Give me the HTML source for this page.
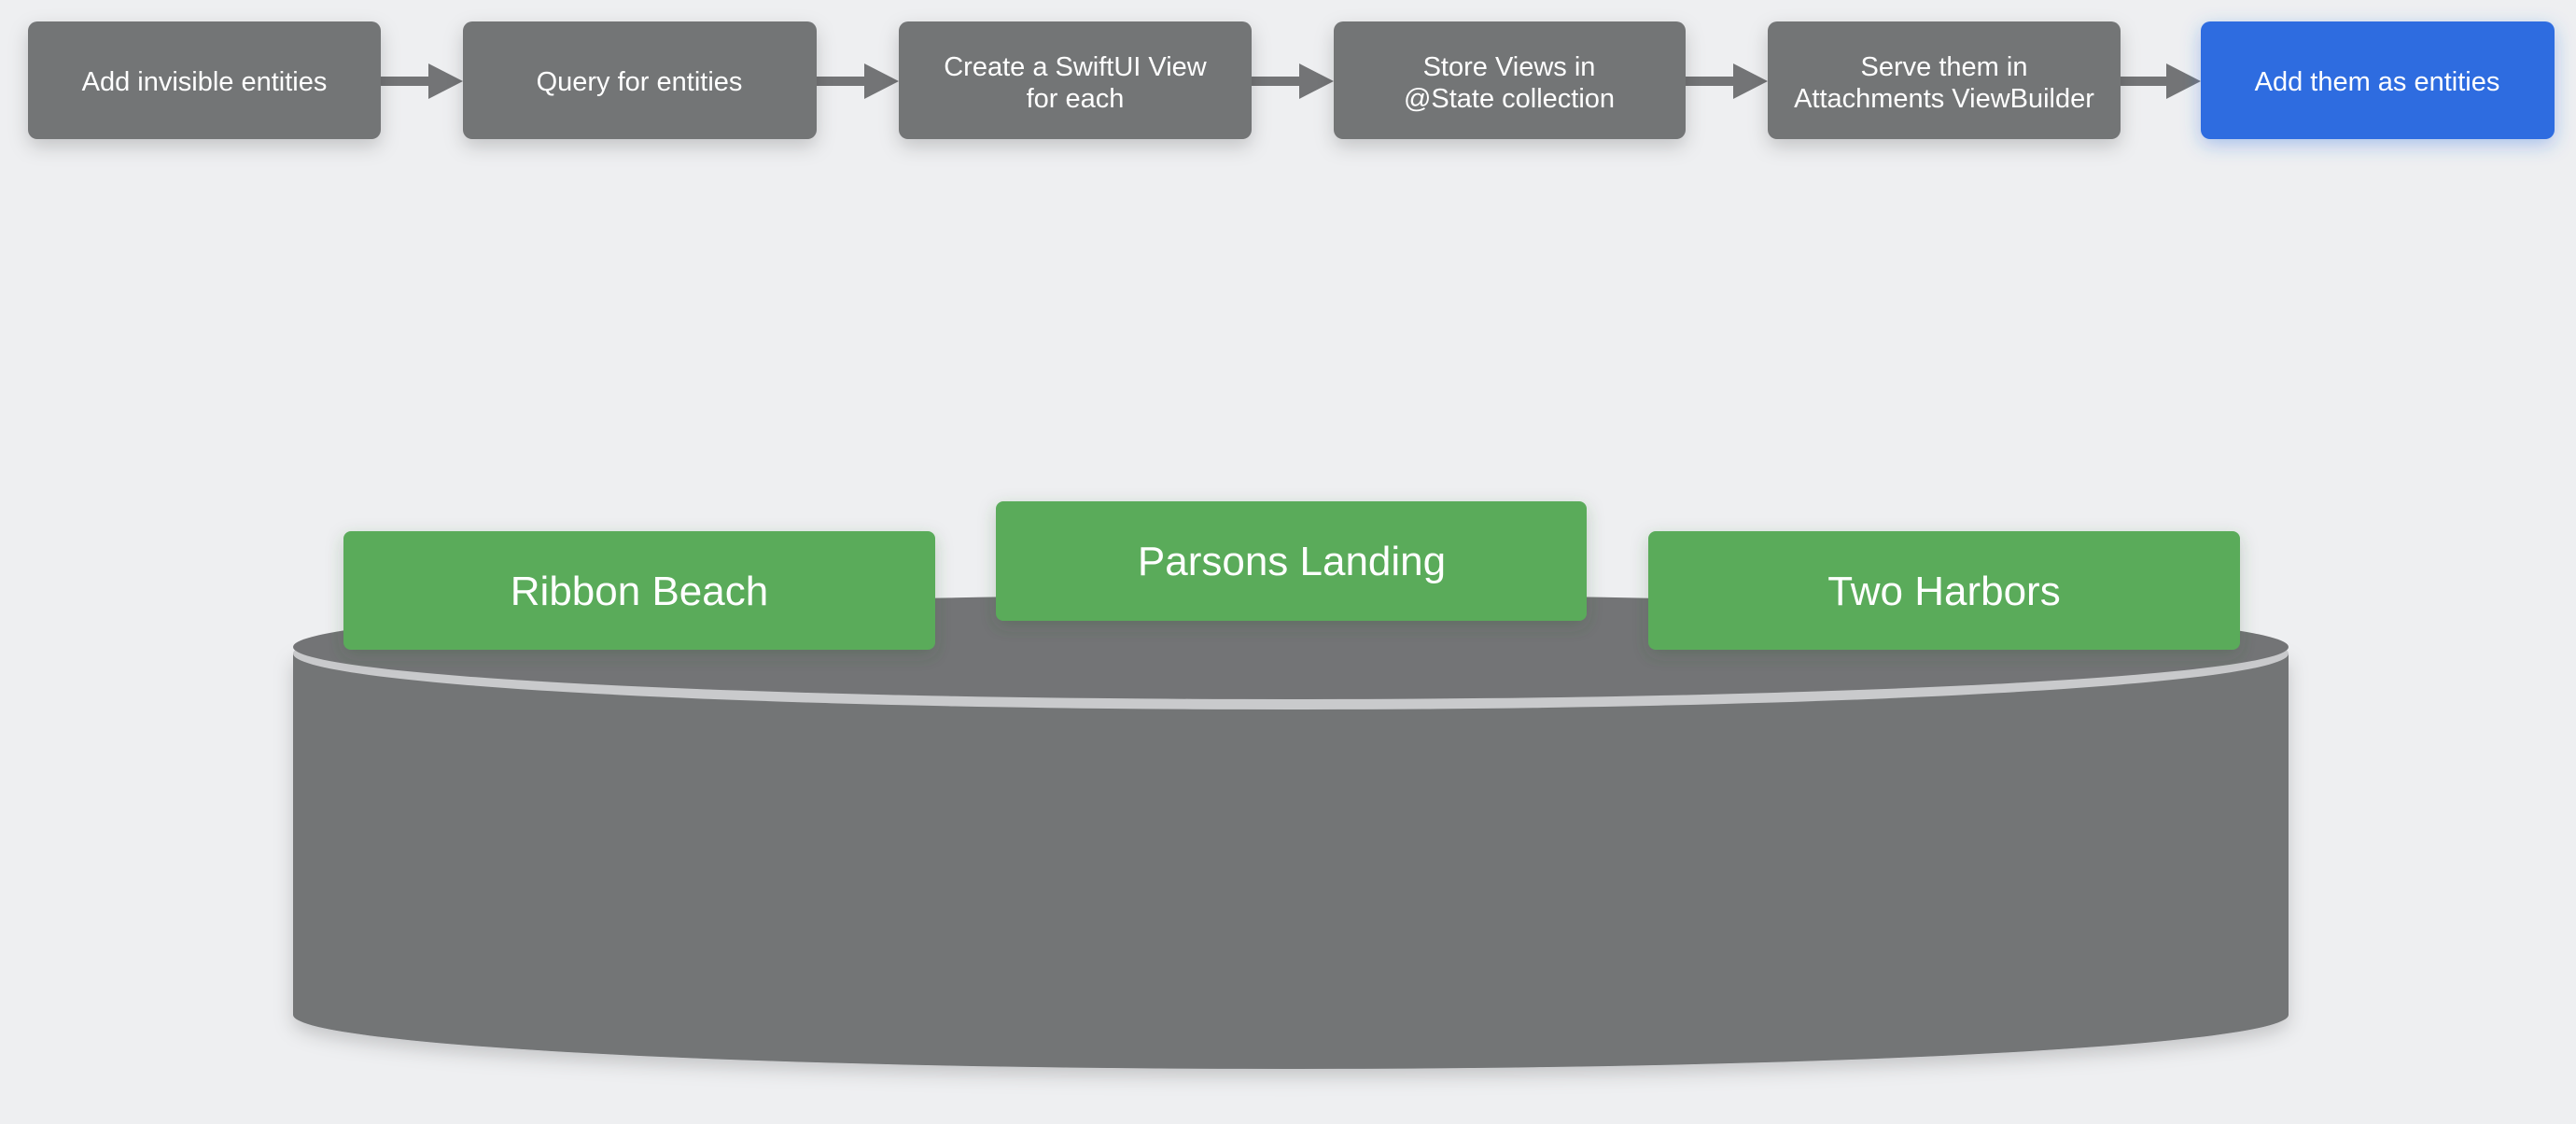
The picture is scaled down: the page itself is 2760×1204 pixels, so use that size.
<!DOCTYPE html>
<html><head><meta charset="utf-8"><style>
html,body{margin:0;padding:0;background:#eeeff1;}
svg{display:block}
text{font-family:"Liberation Sans",sans-serif;fill:#fff;text-anchor:middle}
</style></head><body>
<svg width="2760" height="1204" viewBox="0 0 2760 1204" xmlns="http://www.w3.org/2000/svg">
<defs>
<filter id="sh" x="-20%" y="-40%" width="140%" height="200%"><feDropShadow dx="0" dy="8" stdDeviation="10" flood-color="#000" flood-opacity="0.18"/></filter>
<filter id="gsh" x="-20%" y="-40%" width="140%" height="200%"><feDropShadow dx="0" dy="6" stdDeviation="9" flood-color="#2a5a2a" flood-opacity="0.25"/></filter>
<filter id="bsh" x="-20%" y="-40%" width="140%" height="200%"><feDropShadow dx="0" dy="6" stdDeviation="10" flood-color="#2f6ce0" flood-opacity="0.35"/></filter>
</defs>
<!-- arrows -->
<g fill="#737476">
<rect x="405" y="82" width="60" height="10"/><polygon points="459,68 496,87 459,106"/>
<rect x="872" y="82" width="60" height="10"/><polygon points="926,68 963,87 926,106"/>
<rect x="1338" y="82" width="60" height="10"/><polygon points="1392,68 1429,87 1392,106"/>
<rect x="1803" y="82" width="60" height="10"/><polygon points="1857,68 1894,87 1857,106"/>
<rect x="2269" y="82" width="60" height="10"/><polygon points="2321,68 2358,87 2321,106"/>
</g>
<g fill="#737476" filter="url(#sh)">
<rect x="30" y="23" width="378" height="126" rx="10"/>
<rect x="496" y="23" width="379" height="126" rx="10"/>
<rect x="963" y="23" width="378" height="126" rx="10"/>
<rect x="1429" y="23" width="377" height="126" rx="10"/>
<rect x="1894" y="23" width="378" height="126" rx="10"/>
</g>
<rect x="2358" y="23" width="379" height="126" rx="10" fill="#2f6ce0" filter="url(#bsh)"/>
<g font-size="29">
<text x="219" y="97">Add invisible entities</text>
<text x="685" y="97">Query for entities</text>
<text x="1152" y="81">Create a SwiftUI View</text><text x="1152" y="115">for each</text>
<text x="1617" y="81">Store Views in</text><text x="1617" y="115">@State collection</text>
<text x="2083" y="81">Serve them in</text><text x="2083" y="115">Attachments ViewBuilder</text>
<text x="2547" y="97">Add them as entities</text>
</g>
<!-- cylinder -->
<g filter="url(#sh)">
<path d="M314,700 L314,1087 A1069,58 0 0 0 2452,1087 L2452,700 Z" fill="#737476"/>
</g>
<ellipse cx="1383" cy="700" rx="1069" ry="60" fill="#c9cacc"/>
<ellipse cx="1383" cy="693" rx="1069" ry="56" fill="#737476"/>
<!-- green labels -->
<g fill="#5aab5a" filter="url(#gsh)">
<rect x="368" y="569" width="634" height="127" rx="8"/>
<rect x="1067" y="537" width="633" height="128" rx="8"/>
<rect x="1766" y="569" width="634" height="127" rx="8"/>
</g>
<g font-size="44">
<text x="685" y="648">Ribbon Beach</text>
<text x="1384" y="616">Parsons Landing</text>
<text x="2083" y="648">Two Harbors</text>
</g>
</svg>
</body></html>
